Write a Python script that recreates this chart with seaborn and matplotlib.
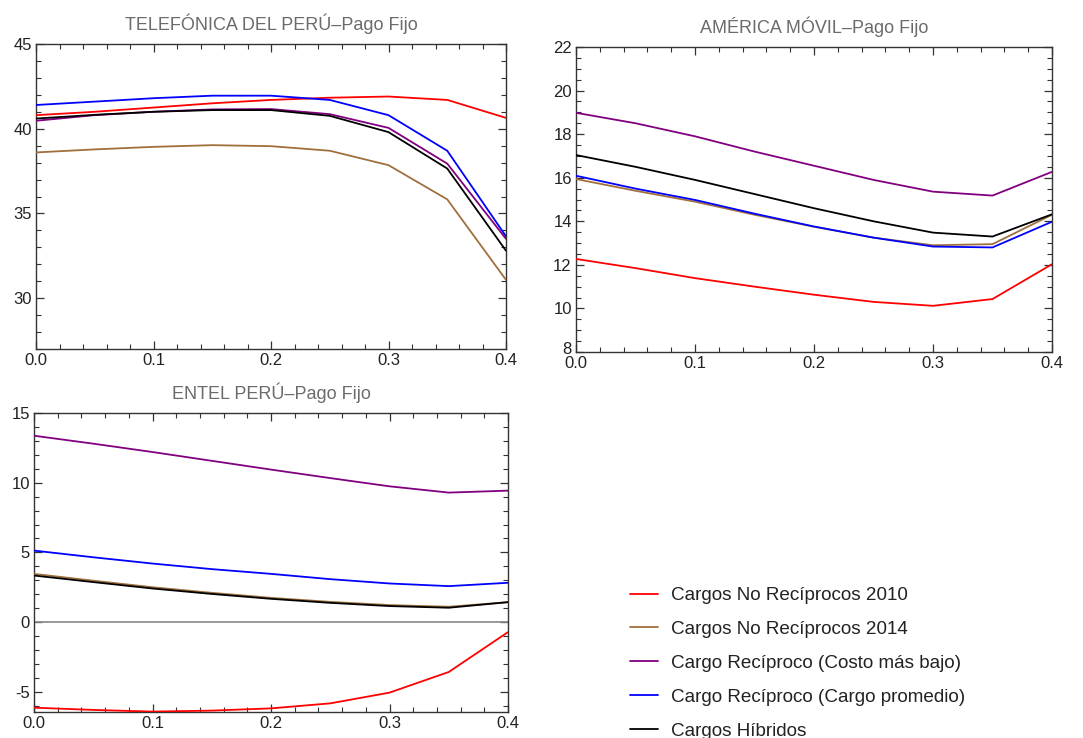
import numpy as np
import pandas as pd
import matplotlib
matplotlib.use("Agg")
import matplotlib.pyplot as plt
import matplotlib.transforms as mtransforms
import seaborn as sns
from matplotlib.ticker import MultipleLocator
from matplotlib.lines import Line2D

sns.set_theme(style="white")
plt.rcParams['font.family'] = ['Liberation Sans', 'DejaVu Sans']
plt.rcParams['axes.unicode_minus'] = False

x = [0.0, 0.05, 0.1, 0.15, 0.2, 0.25, 0.3, 0.35, 0.4]
series = ["Cargos No Recíprocos 2010", "Cargos No Recíprocos 2014",
          "Cargo Recíproco (Costo más bajo)", "Cargo Recíproco (Cargo promedio)",
          "Cargos Híbridos"]
colors = ["#ff0000", "#a0703c", "#800080", "#0000ff", "#000000"]

# TELEFÓNICA DEL PERÚ
tel_2010 = [40.8, 41.0, 41.25, 41.5, 41.7, 41.83, 41.9, 41.7, 40.64]
tel_2014 = [38.6, 38.78, 38.93, 39.03, 38.97, 38.7, 37.85, 35.83, 31.08]
tel_bajo = [40.47, 40.8, 41.0, 41.14, 41.16, 40.86, 40.05, 37.94, 33.5]
tel_prom = [41.4, 41.6, 41.8, 41.95, 41.95, 41.7, 40.8, 38.7, 33.65]
tel_hib = [40.6, 40.82, 41.0, 41.1, 41.1, 40.76, 39.8, 37.65, 32.8]

# AMÉRICA MÓVIL
am_2010 = [12.27, 11.85, 11.39, 11.0, 10.63, 10.3, 10.12, 10.43, 12.03]
am_2014 = [15.94, 15.4, 14.9, 14.3, 13.75, 13.25, 12.9, 12.95, 14.3]
am_bajo = [18.98, 18.5, 17.9, 17.2, 16.55, 15.9, 15.36, 15.18, 16.27]
am_prom = [16.09, 15.5, 14.98, 14.35, 13.76, 13.25, 12.84, 12.8, 13.98]
am_hib = [17.04, 16.5, 15.9, 15.25, 14.6, 14.0, 13.48, 13.3, 14.32]

# ENTEL PERÚ
en_2010 = [-6.14, -6.3, -6.42, -6.35, -6.19, -5.83, -5.06, -3.58, -0.72]
en_2014 = [3.46, 2.97, 2.5, 2.1, 1.74, 1.45, 1.22, 1.1, 1.43]
en_bajo = [13.37, 12.8, 12.2, 11.57, 10.94, 10.33, 9.74, 9.29, 9.43]
en_prom = [5.13, 4.65, 4.2, 3.8, 3.46, 3.08, 2.77, 2.58, 2.82]
en_hib = [3.34, 2.87, 2.41, 2.02, 1.67, 1.38, 1.15, 1.03, 1.43]

titles = ["TELEFÓNICA DEL PERÚ\u2013Pago Fijo", "AMÉRICA MÓVIL\u2013Pago Fijo",
          "ENTEL PERÚ\u2013Pago Fijo"]
panels = [
    [tel_2010, tel_2014, tel_bajo, tel_prom, tel_hib],
    [am_2010, am_2014, am_bajo, am_prom, am_hib],
    [en_2010, en_2014, en_bajo, en_prom, en_hib],
]

def long_df(vals):
    rows = []
    for name, v in zip(series, vals):
        for xi, yi in zip(x, v):
            rows.append({"x": xi, "y": yi, "serie": name})
    return pd.DataFrame(rows)

W, H = 1083, 738
fig = plt.figure(figsize=(W / 100, H / 100), dpi=100)

def px_axes(l, t, r, b):
    return fig.add_axes([l / W, 1 - b / H, (r - l) / W, (b - t) / H])

ax1 = px_axes(36, 44, 506, 349)
ax2 = px_axes(576, 47, 1052, 352)
ax3 = px_axes(34, 413, 508, 712)
axes = [ax1, ax2, ax3]
ylims = [(27, 45), (8, 22), (-6.45, 15)]
ymaj = [5, 2, 5]
ymin = [1, 0.5, 1]

palette = dict(zip(series, colors))
for ax, vals, title, yl, mj, mn in zip(axes, panels, titles, ylims, ymaj, ymin):
    df = long_df(vals)
    if ax is ax3:
        ax.axhline(0, color="#888888", lw=1.2, zorder=1)
    sns.lineplot(data=df, x="x", y="y", hue="serie", palette=palette,
                 hue_order=series, ax=ax, legend=False, lw=1.3, zorder=3)
    ax.set_xlim(0, 0.4)
    ax.set_ylim(*yl)
    ax.set_xlabel("")
    ax.set_ylabel("")
    ax.xaxis.set_major_locator(MultipleLocator(0.1))
    ax.xaxis.set_minor_locator(MultipleLocator(0.02))
    ax.yaxis.set_major_locator(MultipleLocator(mj))
    ax.yaxis.set_minor_locator(MultipleLocator(mn))
    ax.xaxis.set_major_formatter(matplotlib.ticker.FormatStrFormatter("%.1f"))
    ax.yaxis.set_major_formatter(matplotlib.ticker.FormatStrFormatter("%d"))
    ax.tick_params(which="both", direction="in", top=True, right=True,
                   bottom=True, left=True, color="#333333", labelsize=12,
                   labelcolor="#222222", pad=3)
    ax.tick_params(which="major", length=6, width=0.9)
    ax.tick_params(which="minor", length=3.5, width=0.8)
    for s in ax.spines.values():
        s.set_color("#333333")
        s.set_linewidth(1.0)
    ax.set_title(title, color="#6b6b6b", fontsize=13, pad=10)

# nudge the lowest y label of the América Móvil panel up (as in the reference)
fig.canvas.draw()
for lab in ax2.get_yticklabels():
    if lab.get_text() == "8":
        lab.set_transform(lab.get_transform() +
                          mtransforms.ScaledTranslation(0, 4 / 100, fig.dpi_scale_trans))

handles = [Line2D([0], [0], color=c, lw=1.3) for c in colors]
fig.legend(handles, series, loc="upper left",
           bbox_to_anchor=(630 / W, 1 - 587 / H), frameon=False,
           fontsize=13.6, labelspacing=0.88, handlelength=1.5,
           handletextpad=0.65, borderaxespad=0, borderpad=0,
           labelcolor="#222222")

fig.savefig("out.png", dpi=100, facecolor="white")
